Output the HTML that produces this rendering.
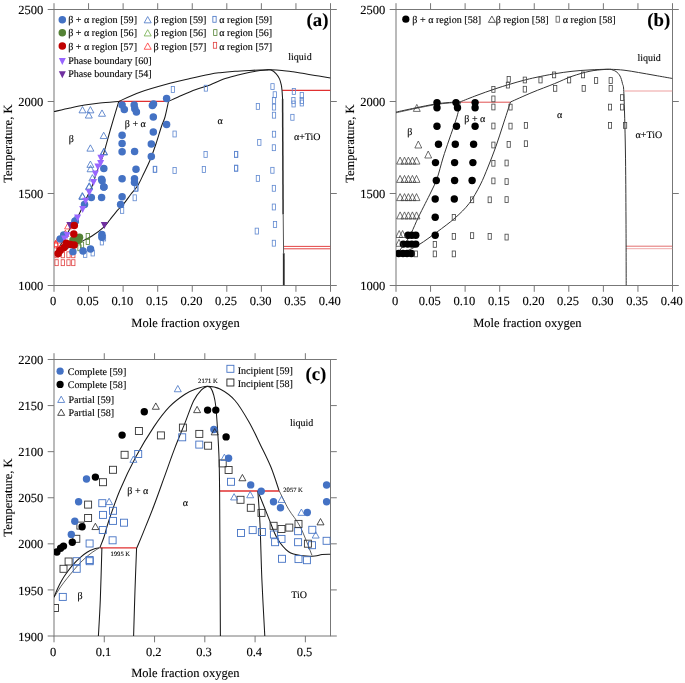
<!DOCTYPE html>
<html><head><meta charset="utf-8"><style>
html,body{margin:0;padding:0;background:#fff;}
svg{display:block;will-change:transform;}
text{font-family:"Liberation Serif",serif;fill:#000;stroke:#000;stroke-width:0.12px;text-rendering:geometricPrecision;}
.tl{font-size:12.5px;}
.at{font-size:12.5px;}
.pl{font-size:18.8px;font-weight:bold;}
.lg{font-size:10.1px;}
.an{font-size:10px;}
.sm{font-size:6.6px;}
</style></head><body>
<svg width="685" height="683" viewBox="0 0 685 683">
<defs><clipPath id="ca"><rect x="54" y="9.5" width="276.5" height="276"/></clipPath><clipPath id="cb"><rect x="396" y="9.5" width="276.5" height="276"/></clipPath><clipPath id="cc"><rect x="54" y="359.5" width="276.5" height="276.5"/></clipPath></defs>
<rect x="54" y="9.5" width="276.5" height="276" fill="none" stroke="#777" stroke-width="1"/>
<line x1="54" y1="285.5" x2="54" y2="291.8" stroke="#777"/>
<line x1="54" y1="9.5" x2="54" y2="3.2" stroke="#777"/>
<text x="53.2" y="305.1" class="tl" text-anchor="middle">0</text>
<line x1="88.56" y1="285.5" x2="88.56" y2="291.8" stroke="#777"/>
<line x1="88.56" y1="9.5" x2="88.56" y2="3.2" stroke="#777"/>
<text x="87.76" y="305.1" class="tl" text-anchor="middle">0.05</text>
<line x1="123.12" y1="285.5" x2="123.12" y2="291.8" stroke="#777"/>
<line x1="123.12" y1="9.5" x2="123.12" y2="3.2" stroke="#777"/>
<text x="122.33" y="305.1" class="tl" text-anchor="middle">0.10</text>
<line x1="157.69" y1="285.5" x2="157.69" y2="291.8" stroke="#777"/>
<line x1="157.69" y1="9.5" x2="157.69" y2="3.2" stroke="#777"/>
<text x="156.89" y="305.1" class="tl" text-anchor="middle">0.15</text>
<line x1="192.25" y1="285.5" x2="192.25" y2="291.8" stroke="#777"/>
<line x1="192.25" y1="9.5" x2="192.25" y2="3.2" stroke="#777"/>
<text x="191.45" y="305.1" class="tl" text-anchor="middle">0.20</text>
<line x1="226.81" y1="285.5" x2="226.81" y2="291.8" stroke="#777"/>
<line x1="226.81" y1="9.5" x2="226.81" y2="3.2" stroke="#777"/>
<text x="226.01" y="305.1" class="tl" text-anchor="middle">0.25</text>
<line x1="261.38" y1="285.5" x2="261.38" y2="291.8" stroke="#777"/>
<line x1="261.38" y1="9.5" x2="261.38" y2="3.2" stroke="#777"/>
<text x="260.57" y="305.1" class="tl" text-anchor="middle">0.30</text>
<line x1="295.94" y1="285.5" x2="295.94" y2="291.8" stroke="#777"/>
<line x1="295.94" y1="9.5" x2="295.94" y2="3.2" stroke="#777"/>
<text x="295.14" y="305.1" class="tl" text-anchor="middle">0.35</text>
<line x1="330.5" y1="285.5" x2="330.5" y2="291.8" stroke="#777"/>
<line x1="330.5" y1="9.5" x2="330.5" y2="3.2" stroke="#777"/>
<text x="329.7" y="305.1" class="tl" text-anchor="middle">0.40</text>
<line x1="47.7" y1="285.5" x2="54" y2="285.5" stroke="#777"/>
<line x1="330.5" y1="285.5" x2="336.8" y2="285.5" stroke="#777"/>
<text x="43.2" y="290.1" class="tl" text-anchor="end">1000</text>
<line x1="47.7" y1="193.5" x2="54" y2="193.5" stroke="#777"/>
<line x1="330.5" y1="193.5" x2="336.8" y2="193.5" stroke="#777"/>
<text x="43.2" y="198.1" class="tl" text-anchor="end">1500</text>
<line x1="47.7" y1="101.5" x2="54" y2="101.5" stroke="#777"/>
<line x1="330.5" y1="101.5" x2="336.8" y2="101.5" stroke="#777"/>
<text x="43.2" y="106.1" class="tl" text-anchor="end">2000</text>
<line x1="47.7" y1="9.5" x2="54" y2="9.5" stroke="#777"/>
<line x1="330.5" y1="9.5" x2="336.8" y2="9.5" stroke="#777"/>
<text x="43.2" y="14.1" class="tl" text-anchor="end">2500</text>
<g clip-path="url(#ca)">
<line x1="118.8" y1="101.4" x2="168.5" y2="101.4" stroke="#e03030" stroke-width="1.2"/>
<line x1="282.2" y1="90.4" x2="330.5" y2="90.4" stroke="#e03030" stroke-width="1.2"/>
<line x1="283.8" y1="246.4" x2="330.5" y2="246.4" stroke="#e03030" stroke-width="0.9"/>
<line x1="283.8" y1="248.8" x2="330.5" y2="248.8" stroke="#e03030" stroke-width="0.9"/>
<path d="M54 111.6C56.67 111 64.88 109.08 70 108C75.12 106.92 79.7 105.93 84.7 105.1C89.7 104.27 94.32 103.62 100 103C105.68 102.38 115.67 101.67 118.8 101.4" fill="none" stroke="#1a1a1a" stroke-width="1.05" stroke-linejoin="round"/>
<path d="M118.8 101.4C122.33 99.87 131.47 95.22 140 92.2C148.53 89.18 161.67 85.58 170 83.3C178.33 81.02 183.33 80.02 190 78.5C196.67 76.98 205 75.17 210 74.2C215 73.23 215.83 73.18 220 72.7C224.17 72.22 230 71.68 235 71.3C240 70.92 245.83 70.62 250 70.4C254.17 70.18 256.5 70.1 260 70C263.5 69.9 267.33 69.73 271 69.8C274.67 69.87 278.33 70.07 282 70.4C285.67 70.73 289.33 71.27 293 71.8C296.67 72.33 300.33 73 304 73.6C307.67 74.2 311.33 74.78 315 75.4C318.67 76.02 323.42 76.85 326 77.3C328.58 77.75 329.75 77.97 330.5 78.1" fill="none" stroke="#1a1a1a" stroke-width="1.05" stroke-linejoin="round"/>
<path d="M168.5 101.4C170.75 100.37 177.42 97.18 182 95.2C186.58 93.22 191.33 91.22 196 89.5C200.67 87.78 205.5 86.6 210 84.9C214.5 83.2 218.5 80.9 223 79.3C227.5 77.7 232.5 76.47 237 75.3C241.5 74.13 246.17 73.08 250 72.3C253.83 71.52 257.33 70.98 260 70.6C262.67 70.22 264.17 70.08 266 70C267.83 69.92 269.33 69.5 271 70.1C272.67 70.7 274.58 72.13 276 73.6C277.42 75.07 278.62 77 279.5 78.9C280.38 80.8 280.88 83.1 281.3 85C281.72 86.9 281.78 87.95 282 90.3C282.22 92.65 282.5 97.63 282.6 99.1" fill="none" stroke="#1a1a1a" stroke-width="1.05" stroke-linejoin="round"/>
<path d="M282.6 99.1L283.1 214.6" stroke="#2a2a2a" stroke-width="1.5" fill="none"/>
<path d="M283.2 214.6L283.6 253.2" stroke="#555" stroke-width="1.0" fill="none"/>
<path d="M283.75 253.2L283.8 285.5" stroke="#2a2a2a" stroke-width="1.8" fill="none"/>
<path d="M118.8 101.4C117.5 105.75 113.65 118.38 111 127.5C108.35 136.62 105.23 148.85 102.9 156.1C100.57 163.35 98.78 166.03 97 171C95.22 175.97 93.97 181.35 92.2 185.9C90.43 190.45 88.6 193.55 86.4 198.3C84.2 203.05 80.97 210.62 79 214.4C77.03 218.18 76.6 217.73 74.6 221C72.6 224.27 69.43 229.83 67 234C64.57 238.17 61.83 242.83 60 246C58.17 249.17 56.67 251.83 56 253" fill="none" stroke="#1a1a1a" stroke-width="1.05" stroke-linejoin="round"/>
<path d="M168.5 101.4C167.92 104 166.15 112.9 165 117C163.85 121.1 163.08 121.58 161.6 126C160.12 130.42 158.02 137.83 156.1 143.5C154.18 149.17 152.13 155.05 150.1 160C148.07 164.95 145.95 168.95 143.9 173.2C141.85 177.45 139.98 181.98 137.8 185.5C135.62 189.02 133.15 191.23 130.8 194.3C128.45 197.37 125.9 201.27 123.7 203.9C121.5 206.53 119.93 207.42 117.6 210.1C115.27 212.78 111.95 217.22 109.7 220C107.45 222.78 107.05 224.13 104.1 226.8C101.15 229.47 95.95 233.47 92 236C88.05 238.53 84.4 240 80.4 242C76.4 244 71.73 246.33 68 248C64.27 249.67 59.67 251.33 58 252" fill="none" stroke="#1a1a1a" stroke-width="1.05" stroke-linejoin="round"/>
<circle cx="62.3" cy="19.7" r="3.75" fill="#4472C4"/>
<circle cx="62.3" cy="32.8" r="3.75" fill="#548235"/>
<circle cx="62.3" cy="46.1" r="3.75" fill="#C00000"/>
<path d="M58.8 57.9L65.8 57.9L62.3 64.9Z" fill="#9966FF"/>
<path d="M58.8 71.3L65.8 71.3L62.3 78.3Z" fill="#7030A0"/>
<text x="68.2" y="23.3" class="lg" text-anchor="start">β + α region [59]</text>
<text x="68.2" y="36.4" class="lg" text-anchor="start">β + α region [56]</text>
<text x="68.2" y="49.6" class="lg" text-anchor="start">β + α region [57]</text>
<text x="68.2" y="64.2" class="lg" text-anchor="start">Phase boundary [60]</text>
<text x="68.2" y="77.4" class="lg" text-anchor="start">Phase boundary [54]</text>
<path d="M144.2 22.85L147.7 16.55L151.2 22.85Z" fill="none" stroke="#4472C4" stroke-width="0.8"/>
<path d="M144.2 35.95L147.7 29.65L151.2 35.95Z" fill="none" stroke="#70AD47" stroke-width="0.8"/>
<path d="M144.2 49.25L147.7 42.95L151.2 49.25Z" fill="none" stroke="#FF3333" stroke-width="0.8"/>
<text x="153.6" y="23.3" class="lg" text-anchor="start">β region [59]</text>
<text x="153.6" y="36.4" class="lg" text-anchor="start">β region [56]</text>
<text x="153.6" y="49.6" class="lg" text-anchor="start">β region [57]</text>
<rect x="212.85" y="16.35" width="3.3" height="5.9" fill="none" stroke="#4472C4" stroke-width="0.8"/>
<rect x="213.65" y="29.65" width="3.3" height="5.9" fill="none" stroke="#548235" stroke-width="0.8"/>
<rect x="213.35" y="42.35" width="3.3" height="5.9" fill="none" stroke="#E04040" stroke-width="0.8"/>
<text x="219.3" y="23.3" class="lg" text-anchor="start">α region [59]</text>
<text x="219.3" y="36.4" class="lg" text-anchor="start">α region [56]</text>
<text x="219.3" y="49.6" class="lg" text-anchor="start">α region [57]</text>
<text x="328.4" y="26.2" class="pl" text-anchor="end">(a)</text>
<text x="288.3" y="59.5" class="an" text-anchor="start">liquid</text>
<text x="293.9" y="139.6" class="an" text-anchor="start">α+TiO</text>
<text x="135.3" y="127" class="an" text-anchor="middle">β + α</text>
<text x="220" y="124" class="an" text-anchor="middle">α</text>
<text x="71.2" y="141.6" class="an" text-anchor="middle">β</text>
<rect x="171.25" y="86.55" width="3.3" height="5.9" fill="none" stroke="#5f88d0" stroke-width="0.8"/>
<rect x="204.25" y="85.25" width="3.3" height="5.9" fill="none" stroke="#5f88d0" stroke-width="0.8"/>
<rect x="172.95" y="131.05" width="3.3" height="5.9" fill="none" stroke="#5f88d0" stroke-width="0.8"/>
<rect x="203.95" y="151.45" width="3.3" height="5.9" fill="none" stroke="#5f88d0" stroke-width="0.8"/>
<rect x="234.45" y="151.45" width="3.3" height="5.9" fill="none" stroke="#5f88d0" stroke-width="0.8"/>
<rect x="153.15" y="166.55" width="3.3" height="5.9" fill="none" stroke="#5f88d0" stroke-width="0.8"/>
<rect x="172.95" y="167.55" width="3.3" height="5.9" fill="none" stroke="#5f88d0" stroke-width="0.8"/>
<rect x="202.25" y="166.55" width="3.3" height="5.9" fill="none" stroke="#5f88d0" stroke-width="0.8"/>
<rect x="234.45" y="165.35" width="3.3" height="5.9" fill="none" stroke="#5f88d0" stroke-width="0.8"/>
<rect x="133.05" y="194.85" width="3.3" height="5.9" fill="none" stroke="#5f88d0" stroke-width="0.8"/>
<rect x="120.45" y="207.45" width="3.3" height="5.9" fill="none" stroke="#5f88d0" stroke-width="0.8"/>
<rect x="134.35" y="185.35" width="3.3" height="5.9" fill="none" stroke="#5f88d0" stroke-width="0.8"/>
<rect x="270.85" y="83.65" width="3.3" height="5.9" fill="none" stroke="#5f88d0" stroke-width="0.8"/>
<rect x="273.15" y="91.75" width="3.3" height="5.9" fill="none" stroke="#5f88d0" stroke-width="0.8"/>
<rect x="272.35" y="97.55" width="3.3" height="5.9" fill="none" stroke="#5f88d0" stroke-width="0.8"/>
<rect x="272.35" y="104.15" width="3.3" height="5.9" fill="none" stroke="#5f88d0" stroke-width="0.8"/>
<rect x="272.35" y="112.25" width="3.3" height="5.9" fill="none" stroke="#5f88d0" stroke-width="0.8"/>
<rect x="256.25" y="103.45" width="3.3" height="5.9" fill="none" stroke="#5f88d0" stroke-width="0.8"/>
<rect x="272.35" y="131.25" width="3.3" height="5.9" fill="none" stroke="#5f88d0" stroke-width="0.8"/>
<rect x="257.65" y="139.45" width="3.3" height="5.9" fill="none" stroke="#5f88d0" stroke-width="0.8"/>
<rect x="272.25" y="144.75" width="3.3" height="5.9" fill="none" stroke="#5f88d0" stroke-width="0.8"/>
<rect x="292.25" y="88.45" width="3.3" height="5.9" fill="none" stroke="#5f88d0" stroke-width="0.8"/>
<rect x="291.75" y="97.55" width="3.3" height="5.9" fill="none" stroke="#5f88d0" stroke-width="0.8"/>
<rect x="291.95" y="101.05" width="3.3" height="5.9" fill="none" stroke="#5f88d0" stroke-width="0.8"/>
<rect x="300.15" y="92.45" width="3.3" height="5.9" fill="none" stroke="#5f88d0" stroke-width="0.8"/>
<rect x="300.15" y="97.55" width="3.3" height="5.9" fill="none" stroke="#5f88d0" stroke-width="0.8"/>
<rect x="300.15" y="100.05" width="3.3" height="5.9" fill="none" stroke="#5f88d0" stroke-width="0.8"/>
<rect x="290.75" y="114.35" width="3.3" height="5.9" fill="none" stroke="#5f88d0" stroke-width="0.8"/>
<rect x="234.45" y="151.35" width="3.3" height="5.9" fill="none" stroke="#5f88d0" stroke-width="0.8"/>
<rect x="234.45" y="165.15" width="3.3" height="5.9" fill="none" stroke="#5f88d0" stroke-width="0.8"/>
<rect x="270.75" y="167.35" width="3.3" height="5.9" fill="none" stroke="#5f88d0" stroke-width="0.8"/>
<rect x="256.25" y="175.45" width="3.3" height="5.9" fill="none" stroke="#5f88d0" stroke-width="0.8"/>
<rect x="272.25" y="185.35" width="3.3" height="5.9" fill="none" stroke="#5f88d0" stroke-width="0.8"/>
<rect x="272.25" y="204.05" width="3.3" height="5.9" fill="none" stroke="#5f88d0" stroke-width="0.8"/>
<rect x="273.35" y="221.55" width="3.3" height="5.9" fill="none" stroke="#5f88d0" stroke-width="0.8"/>
<rect x="255.15" y="228.15" width="3.3" height="5.9" fill="none" stroke="#5f88d0" stroke-width="0.8"/>
<rect x="272.25" y="240.25" width="3.3" height="5.9" fill="none" stroke="#5f88d0" stroke-width="0.8"/>
<rect x="100.25" y="239.05" width="3.3" height="5.9" fill="none" stroke="#5f88d0" stroke-width="0.8"/>
<rect x="83.55" y="251.45" width="3.3" height="5.9" fill="none" stroke="#5f88d0" stroke-width="0.8"/>
<rect x="91.05" y="250.05" width="3.3" height="5.9" fill="none" stroke="#5f88d0" stroke-width="0.8"/>
<rect x="102.35" y="235.05" width="3.3" height="5.9" fill="none" stroke="#5f88d0" stroke-width="0.8"/>
<rect x="153.55" y="166.25" width="3.3" height="5.9" fill="none" stroke="#5f88d0" stroke-width="0.8"/>
<rect x="134.85" y="185.15" width="3.3" height="5.9" fill="none" stroke="#5f88d0" stroke-width="0.8"/>
<rect x="86.15" y="233.45" width="3.3" height="5.9" fill="none" stroke="#548235" stroke-width="0.8"/>
<rect x="86.15" y="238.65" width="3.3" height="5.9" fill="none" stroke="#548235" stroke-width="0.8"/>
<rect x="77.85" y="244.85" width="3.3" height="5.9" fill="none" stroke="#548235" stroke-width="0.8"/>
<rect x="80.35" y="242.05" width="3.3" height="5.9" fill="none" stroke="#548235" stroke-width="0.8"/>
<rect x="54.95" y="259.75" width="3.3" height="5.9" fill="none" stroke="#E04040" stroke-width="0.8"/>
<rect x="61.15" y="259.75" width="3.3" height="5.9" fill="none" stroke="#E04040" stroke-width="0.8"/>
<rect x="66.85" y="259.75" width="3.3" height="5.9" fill="none" stroke="#E04040" stroke-width="0.8"/>
<rect x="71.65" y="259.75" width="3.3" height="5.9" fill="none" stroke="#E04040" stroke-width="0.8"/>
<rect x="54.95" y="251.85" width="3.3" height="5.9" fill="none" stroke="#E04040" stroke-width="0.8"/>
<rect x="61.15" y="251.85" width="3.3" height="5.9" fill="none" stroke="#E04040" stroke-width="0.8"/>
<rect x="66.85" y="251.85" width="3.3" height="5.9" fill="none" stroke="#E04040" stroke-width="0.8"/>
<rect x="71.65" y="251.85" width="3.3" height="5.9" fill="none" stroke="#E04040" stroke-width="0.8"/>
<rect x="54.35" y="242.05" width="3.3" height="5.9" fill="none" stroke="#E04040" stroke-width="0.8"/>
<rect x="56.35" y="247.05" width="3.3" height="5.9" fill="none" stroke="#E04040" stroke-width="0.8"/>
<path d="M79 112.85L82.5 106.55L86 112.85Z" fill="none" stroke="#4472C4" stroke-width="0.8"/>
<path d="M86.9 112.85L90.4 106.55L93.9 112.85Z" fill="none" stroke="#4472C4" stroke-width="0.8"/>
<path d="M85.3 118.05L88.8 111.75L92.3 118.05Z" fill="none" stroke="#4472C4" stroke-width="0.8"/>
<path d="M98.5 116.25L102 109.95L105.5 116.25Z" fill="none" stroke="#4472C4" stroke-width="0.8"/>
<path d="M100.2 138.55L103.7 132.25L107.2 138.55Z" fill="none" stroke="#4472C4" stroke-width="0.8"/>
<path d="M86.9 151.15L90.4 144.85L93.9 151.15Z" fill="none" stroke="#4472C4" stroke-width="0.8"/>
<path d="M100.5 154.95L104 148.65L107.5 154.95Z" fill="none" stroke="#4472C4" stroke-width="0.8"/>
<path d="M86.9 167.35L90.4 161.05L93.9 167.35Z" fill="none" stroke="#4472C4" stroke-width="0.8"/>
<path d="M87.1 171.75L90.6 165.45L94.1 171.75Z" fill="none" stroke="#4472C4" stroke-width="0.8"/>
<path d="M88.9 180.95L92.4 174.65L95.9 180.95Z" fill="none" stroke="#4472C4" stroke-width="0.8"/>
<path d="M85.6 189.75L89.1 183.45L92.6 189.75Z" fill="none" stroke="#4472C4" stroke-width="0.8"/>
<path d="M79.1 199.55L82.6 193.25L86.1 199.55Z" fill="none" stroke="#4472C4" stroke-width="0.8"/>
<path d="M85.8 189.05L89.3 182.75L92.8 189.05Z" fill="none" stroke="#4472C4" stroke-width="0.8"/>
<path d="M78.8 198.85L82.3 192.55L85.8 198.85Z" fill="none" stroke="#4472C4" stroke-width="0.8"/>
<path d="M71.7 222.25L75.2 215.95L78.7 222.25Z" fill="none" stroke="#4472C4" stroke-width="0.8"/>
<path d="M100.3 154.55L103.8 148.25L107.3 154.55Z" fill="none" stroke="#4472C4" stroke-width="0.8"/>
<path d="M64.6 228.95L68.1 222.65L71.6 228.95Z" fill="none" stroke="#FF3333" stroke-width="0.8"/>
<path d="M61.9 236.45L65.4 230.15L68.9 236.45Z" fill="none" stroke="#FF3333" stroke-width="0.8"/>
<path d="M52.3 246.55L55.8 240.25L59.3 246.55Z" fill="none" stroke="#FF3333" stroke-width="0.8"/>
<path d="M57.5 251.85L61 245.55L64.5 251.85Z" fill="none" stroke="#FF3333" stroke-width="0.8"/>
<path d="M54.5 243.15L58 236.85L61.5 243.15Z" fill="none" stroke="#FF3333" stroke-width="0.8"/>
<circle cx="122.1" cy="105" r="3.75" fill="#4472C4"/>
<circle cx="124.3" cy="109.4" r="3.75" fill="#4472C4"/>
<circle cx="134.2" cy="105" r="3.75" fill="#4472C4"/>
<circle cx="134.8" cy="108.8" r="3.75" fill="#4472C4"/>
<circle cx="136.4" cy="112" r="3.75" fill="#4472C4"/>
<circle cx="152.4" cy="105.5" r="3.75" fill="#4472C4"/>
<circle cx="153.5" cy="103.9" r="3.75" fill="#4472C4"/>
<circle cx="166.6" cy="98.5" r="3.75" fill="#4472C4"/>
<circle cx="153.3" cy="117.1" r="3.75" fill="#4472C4"/>
<circle cx="166.6" cy="124.4" r="3.75" fill="#4472C4"/>
<circle cx="153.3" cy="132" r="3.75" fill="#4472C4"/>
<circle cx="122.1" cy="135.3" r="3.75" fill="#4472C4"/>
<circle cx="122.1" cy="143.5" r="3.75" fill="#4472C4"/>
<circle cx="122.1" cy="151.8" r="3.75" fill="#4472C4"/>
<circle cx="134.6" cy="151.4" r="3.75" fill="#4472C4"/>
<circle cx="151.3" cy="143.9" r="3.75" fill="#4472C4"/>
<circle cx="151.3" cy="156.6" r="3.75" fill="#4472C4"/>
<circle cx="103.8" cy="168.6" r="3.75" fill="#4472C4"/>
<circle cx="136" cy="169.3" r="3.75" fill="#4472C4"/>
<circle cx="101.6" cy="179.2" r="3.75" fill="#4472C4"/>
<circle cx="122.1" cy="178.8" r="3.75" fill="#4472C4"/>
<circle cx="134.5" cy="178.8" r="3.75" fill="#4472C4"/>
<circle cx="134.5" cy="182.5" r="3.75" fill="#4472C4"/>
<circle cx="103.8" cy="187.1" r="3.75" fill="#4472C4"/>
<circle cx="91.3" cy="197.4" r="3.75" fill="#4472C4"/>
<circle cx="101.6" cy="197.4" r="3.75" fill="#4472C4"/>
<circle cx="122.1" cy="196.8" r="3.75" fill="#4472C4"/>
<circle cx="120.6" cy="204.4" r="3.75" fill="#4472C4"/>
<circle cx="84.5" cy="204.5" r="3.75" fill="#4472C4"/>
<circle cx="102.1" cy="180.7" r="3.75" fill="#4472C4"/>
<circle cx="103.9" cy="187" r="3.75" fill="#4472C4"/>
<circle cx="75.1" cy="221" r="3.75" fill="#4472C4"/>
<circle cx="63.7" cy="235" r="3.75" fill="#4472C4"/>
<circle cx="60.2" cy="239" r="3.75" fill="#4472C4"/>
<circle cx="83" cy="250.9" r="3.75" fill="#4472C4"/>
<circle cx="90.5" cy="249.1" r="3.75" fill="#4472C4"/>
<circle cx="101.9" cy="234.6" r="3.75" fill="#4472C4"/>
<circle cx="101.9" cy="237.2" r="3.75" fill="#4472C4"/>
<circle cx="72.9" cy="251.7" r="3.75" fill="#4472C4"/>
<circle cx="75" cy="221.7" r="3.75" fill="#4472C4"/>
<path d="M97.4 154.8L104.4 154.8L100.9 161.8Z" fill="#9966FF"/>
<path d="M97.1 159.9L104.1 159.9L100.6 166.9Z" fill="#9966FF"/>
<path d="M94.4 163.6L101.4 163.6L97.9 170.6Z" fill="#9966FF"/>
<path d="M91.9 170.5L98.9 170.5L95.4 177.5Z" fill="#9966FF"/>
<path d="M90 179L97 179L93.5 186Z" fill="#9966FF"/>
<path d="M85.8 189.3L92.8 189.3L89.3 196.3Z" fill="#9966FF"/>
<path d="M82.1 197.7L89.1 197.7L85.6 204.7Z" fill="#9966FF"/>
<path d="M79.2 206.1L86.2 206.1L82.7 213.1Z" fill="#9966FF"/>
<path d="M74.1 214.6L81.1 214.6L77.6 221.6Z" fill="#9966FF"/>
<path d="M63.7 232L70.7 232L67.2 239Z" fill="#9966FF"/>
<path d="M61 235.5L68 235.5L64.5 242.5Z" fill="#9966FF"/>
<path d="M100.8 222.1L107.8 222.1L104.3 229.1Z" fill="#7030A0"/>
<path d="M66.3 222.1L73.3 222.1L69.8 229.1Z" fill="#7030A0"/>
<circle cx="72.9" cy="240.3" r="3.75" fill="#548235"/>
<circle cx="76.4" cy="239.4" r="3.75" fill="#548235"/>
<circle cx="79.5" cy="237.2" r="3.75" fill="#548235"/>
<circle cx="78.6" cy="240.3" r="3.75" fill="#548235"/>
<circle cx="74.3" cy="225.4" r="3.75" fill="#C00000"/>
<circle cx="73.8" cy="233.9" r="3.75" fill="#C00000"/>
<circle cx="66.3" cy="243.3" r="3.75" fill="#C00000"/>
<circle cx="70.5" cy="244.5" r="3.75" fill="#C00000"/>
<circle cx="74.2" cy="244.9" r="3.75" fill="#C00000"/>
<circle cx="64.2" cy="247.4" r="3.75" fill="#C00000"/>
<circle cx="60.1" cy="250.4" r="3.75" fill="#C00000"/>
<circle cx="58.2" cy="253.5" r="3.75" fill="#C00000"/>
</g>
<rect x="396" y="9.5" width="276.5" height="276" fill="none" stroke="#777" stroke-width="1"/>
<line x1="396" y1="285.5" x2="396" y2="291.8" stroke="#777"/>
<line x1="396" y1="9.5" x2="396" y2="3.2" stroke="#777"/>
<text x="395.2" y="305.1" class="tl" text-anchor="middle">0</text>
<line x1="430.56" y1="285.5" x2="430.56" y2="291.8" stroke="#777"/>
<line x1="430.56" y1="9.5" x2="430.56" y2="3.2" stroke="#777"/>
<text x="429.76" y="305.1" class="tl" text-anchor="middle">0.05</text>
<line x1="465.12" y1="285.5" x2="465.12" y2="291.8" stroke="#777"/>
<line x1="465.12" y1="9.5" x2="465.12" y2="3.2" stroke="#777"/>
<text x="464.32" y="305.1" class="tl" text-anchor="middle">0.10</text>
<line x1="499.69" y1="285.5" x2="499.69" y2="291.8" stroke="#777"/>
<line x1="499.69" y1="9.5" x2="499.69" y2="3.2" stroke="#777"/>
<text x="498.89" y="305.1" class="tl" text-anchor="middle">0.15</text>
<line x1="534.25" y1="285.5" x2="534.25" y2="291.8" stroke="#777"/>
<line x1="534.25" y1="9.5" x2="534.25" y2="3.2" stroke="#777"/>
<text x="533.45" y="305.1" class="tl" text-anchor="middle">0.20</text>
<line x1="568.81" y1="285.5" x2="568.81" y2="291.8" stroke="#777"/>
<line x1="568.81" y1="9.5" x2="568.81" y2="3.2" stroke="#777"/>
<text x="568.01" y="305.1" class="tl" text-anchor="middle">0.25</text>
<line x1="603.38" y1="285.5" x2="603.38" y2="291.8" stroke="#777"/>
<line x1="603.38" y1="9.5" x2="603.38" y2="3.2" stroke="#777"/>
<text x="602.58" y="305.1" class="tl" text-anchor="middle">0.30</text>
<line x1="637.94" y1="285.5" x2="637.94" y2="291.8" stroke="#777"/>
<line x1="637.94" y1="9.5" x2="637.94" y2="3.2" stroke="#777"/>
<text x="637.14" y="305.1" class="tl" text-anchor="middle">0.35</text>
<line x1="672.5" y1="285.5" x2="672.5" y2="291.8" stroke="#777"/>
<line x1="672.5" y1="9.5" x2="672.5" y2="3.2" stroke="#777"/>
<text x="671.7" y="305.1" class="tl" text-anchor="middle">0.40</text>
<line x1="389.7" y1="285.5" x2="396" y2="285.5" stroke="#777"/>
<line x1="672.5" y1="285.5" x2="678.8" y2="285.5" stroke="#777"/>
<text x="385.2" y="290.1" class="tl" text-anchor="end">1000</text>
<line x1="389.7" y1="193.5" x2="396" y2="193.5" stroke="#777"/>
<line x1="672.5" y1="193.5" x2="678.8" y2="193.5" stroke="#777"/>
<text x="385.2" y="198.1" class="tl" text-anchor="end">1500</text>
<line x1="389.7" y1="101.5" x2="396" y2="101.5" stroke="#777"/>
<line x1="672.5" y1="101.5" x2="678.8" y2="101.5" stroke="#777"/>
<text x="385.2" y="106.1" class="tl" text-anchor="end">2000</text>
<line x1="389.7" y1="9.5" x2="396" y2="9.5" stroke="#777"/>
<line x1="672.5" y1="9.5" x2="678.8" y2="9.5" stroke="#777"/>
<text x="385.2" y="14.1" class="tl" text-anchor="end">2500</text>
<g clip-path="url(#cb)">
<line x1="460.4" y1="102.2" x2="510.5" y2="102.2" stroke="#e05050" stroke-width="1.0"/>
<line x1="624.5" y1="91" x2="672.5" y2="91" stroke="#eea0a0" stroke-width="1.1"/>
<line x1="625.9" y1="246.2" x2="672.5" y2="246.2" stroke="#e06060" stroke-width="0.9"/>
<line x1="625.9" y1="248.7" x2="672.5" y2="248.7" stroke="#eea0a0" stroke-width="0.9"/>
<path d="M396 112.1C399.17 111.42 408.42 109.35 415 108C421.58 106.65 430 104.9 435.5 104C441 103.1 443.85 102.97 448 102.6C452.15 102.23 458.33 101.93 460.4 101.8" fill="none" stroke="#333" stroke-width="1.0" stroke-linejoin="round"/>
<path d="M396 112.8C399.17 112.1 408.42 109.97 415 108.6C421.58 107.23 430 105.52 435.5 104.6C441 103.68 443.85 103.5 448 103.1C452.15 102.7 458.33 102.35 460.4 102.2" fill="none" stroke="#333" stroke-width="0.8" stroke-linejoin="round"/>
<path d="M460.4 101.8C463.17 100.72 471.38 97.4 477 95.3C482.62 93.2 488.6 91.05 494.1 89.2C499.6 87.35 505.07 85.68 510 84.2C514.93 82.72 519.37 81.43 523.7 80.3C528.03 79.17 530.88 78.48 536 77.4C541.12 76.32 548.4 74.82 554.4 73.8C560.4 72.78 566.07 71.95 572 71.3C577.93 70.65 583.78 70.23 590 69.9C596.22 69.57 603.63 69.25 609.3 69.3C614.97 69.35 619.12 69.67 624 70.2C628.88 70.73 633.43 71.63 638.6 72.5C643.77 73.37 649.35 74.4 655 75.4C660.65 76.4 669.58 77.98 672.5 78.5" fill="none" stroke="#333" stroke-width="1.0" stroke-linejoin="round"/>
<path d="M510.5 102C514.08 100.42 524.68 95.55 532 92.5C539.32 89.45 547.73 86.4 554.4 83.7C561.07 81 566.07 78.38 572 76.3C577.93 74.22 584.67 72.33 590 71.2C595.33 70.07 600.55 69.82 604 69.5C607.45 69.18 609.58 69.33 610.7 69.3" fill="none" stroke="#333" stroke-width="1.0" stroke-linejoin="round"/>
<path d="M610.7 69.3C611.58 69.67 614.45 70.38 616 71.5C617.55 72.62 618.92 73.97 620 76C621.08 78.03 621.85 80.72 622.5 83.7C623.15 86.68 623.42 82.85 623.9 93.9C624.38 104.95 625.05 128.98 625.4 150C625.75 171.02 625.87 197.42 626 220C626.13 242.58 626.17 274.58 626.2 285.5" fill="none" stroke="#333" stroke-width="1.0" stroke-linejoin="round"/>
<path d="M460.4 101.8C459.8 104.37 458.7 110.83 456.8 117.2C454.9 123.57 451.3 133.2 449 140C446.7 146.8 445 151.55 443 158C441 164.45 439 173.03 437 178.7C435 184.37 432.95 187.88 431 192C429.05 196.12 427.47 199.07 425.3 203.4C423.13 207.73 420.32 213.12 418 218C415.68 222.88 413.4 228.7 411.4 232.7C409.4 236.7 407.9 239.12 406 242C404.1 244.88 401 248.67 400 250" fill="none" stroke="#333" stroke-width="1.0" stroke-linejoin="round"/>
<path d="M510.5 102C509.25 105.83 505.43 117.58 503 125C500.57 132.42 498.4 139.5 495.9 146.5C493.4 153.5 490.62 160.58 488 167C485.38 173.42 483.33 178.93 480.2 185C477.07 191.07 473.4 197.9 469.2 203.4C465 208.9 460.37 213.23 455 218C449.63 222.77 442.93 227.6 437 232C431.07 236.4 424.73 241.07 419.4 244.4C414.07 247.73 408.73 250.07 405 252C401.27 253.93 398.33 255.33 397 256" fill="none" stroke="#333" stroke-width="1.0" stroke-linejoin="round"/>
<circle cx="405.8" cy="19.2" r="3.6" fill="#000"/>
<text x="412.3" y="22.9" class="lg" text-anchor="start">β + α region [58]</text>
<path d="M488.4 22.35L491.9 16.05L495.4 22.35Z" fill="none" stroke="#333" stroke-width="0.8"/>
<text x="495.8" y="22.9" class="lg" text-anchor="start">β region [58]</text>
<rect x="556.05" y="16.25" width="3.3" height="5.9" fill="none" stroke="#555" stroke-width="0.8"/>
<text x="562.8" y="22.9" class="lg" text-anchor="start">α region [58]</text>
<text x="670.3" y="25.6" class="pl" text-anchor="end">(b)</text>
<text x="637.4" y="60.5" class="an" text-anchor="start">liquid</text>
<text x="635.6" y="137.8" class="an" text-anchor="start">α+TiO</text>
<text x="474.8" y="122.2" class="an" text-anchor="middle">β + α</text>
<text x="559.5" y="117.5" class="an" text-anchor="middle">α</text>
<text x="409.9" y="135.1" class="an" text-anchor="middle">β</text>
<circle cx="437" cy="102.6" r="3.7" fill="#000"/>
<circle cx="456" cy="102.6" r="3.7" fill="#000"/>
<circle cx="475.1" cy="102.6" r="3.7" fill="#000"/>
<circle cx="437" cy="107.7" r="3.7" fill="#000"/>
<circle cx="457.5" cy="107.7" r="3.7" fill="#000"/>
<circle cx="475.1" cy="107.7" r="3.7" fill="#000"/>
<circle cx="437" cy="126.3" r="3.7" fill="#000"/>
<circle cx="456.5" cy="126.3" r="3.7" fill="#000"/>
<circle cx="475.1" cy="126.3" r="3.7" fill="#000"/>
<circle cx="438.5" cy="144.3" r="3.7" fill="#000"/>
<circle cx="455.3" cy="144.3" r="3.7" fill="#000"/>
<circle cx="473.6" cy="144.3" r="3.7" fill="#000"/>
<circle cx="435.5" cy="162.6" r="3.7" fill="#000"/>
<circle cx="454.6" cy="162.6" r="3.7" fill="#000"/>
<circle cx="472.9" cy="162.6" r="3.7" fill="#000"/>
<circle cx="436.3" cy="180.5" r="3.7" fill="#000"/>
<circle cx="454.6" cy="180.5" r="3.7" fill="#000"/>
<circle cx="472.1" cy="180.5" r="3.7" fill="#000"/>
<circle cx="435.2" cy="199" r="3.7" fill="#000"/>
<circle cx="454.3" cy="199" r="3.7" fill="#000"/>
<circle cx="435.2" cy="217.3" r="3.7" fill="#000"/>
<circle cx="408" cy="235.3" r="3.7" fill="#000"/>
<circle cx="411.8" cy="235.3" r="3.7" fill="#000"/>
<circle cx="415.8" cy="235.3" r="3.7" fill="#000"/>
<circle cx="435.2" cy="235.3" r="3.7" fill="#000"/>
<circle cx="403.3" cy="244.1" r="3.7" fill="#000"/>
<circle cx="407.7" cy="244.1" r="3.7" fill="#000"/>
<circle cx="411.8" cy="244.1" r="3.7" fill="#000"/>
<circle cx="415.8" cy="244.1" r="3.7" fill="#000"/>
<circle cx="398.6" cy="253.5" r="3.7" fill="#000"/>
<circle cx="403" cy="253.5" r="3.7" fill="#000"/>
<circle cx="407" cy="253.5" r="3.7" fill="#000"/>
<circle cx="411.4" cy="253.5" r="3.7" fill="#000"/>
<path d="M413.35 111.4L416.8 104.4L420.25 111.4Z" fill="none" stroke="#333" stroke-width="0.7"/>
<path d="M414.85 148L418.3 141L421.75 148Z" fill="none" stroke="#333" stroke-width="0.7"/>
<path d="M424.75 158L428.2 151L431.65 158Z" fill="none" stroke="#333" stroke-width="0.7"/>
<path d="M396.65 164.1L400.1 157.1L403.55 164.1Z" fill="none" stroke="#333" stroke-width="0.7"/>
<path d="M401.05 164.1L404.5 157.1L407.95 164.1Z" fill="none" stroke="#333" stroke-width="0.7"/>
<path d="M404.95 164.1L408.4 157.1L411.85 164.1Z" fill="none" stroke="#333" stroke-width="0.7"/>
<path d="M408.95 164.1L412.4 157.1L415.85 164.1Z" fill="none" stroke="#333" stroke-width="0.7"/>
<path d="M413.05 164.1L416.5 157.1L419.95 164.1Z" fill="none" stroke="#333" stroke-width="0.7"/>
<path d="M396.65 182.4L400.1 175.4L403.55 182.4Z" fill="none" stroke="#333" stroke-width="0.7"/>
<path d="M401.05 182.4L404.5 175.4L407.95 182.4Z" fill="none" stroke="#333" stroke-width="0.7"/>
<path d="M404.95 182.4L408.4 175.4L411.85 182.4Z" fill="none" stroke="#333" stroke-width="0.7"/>
<path d="M408.95 182.4L412.4 175.4L415.85 182.4Z" fill="none" stroke="#333" stroke-width="0.7"/>
<path d="M413.05 182.4L416.5 175.4L419.95 182.4Z" fill="none" stroke="#333" stroke-width="0.7"/>
<path d="M396.65 200.6L400.1 193.6L403.55 200.6Z" fill="none" stroke="#333" stroke-width="0.7"/>
<path d="M401.05 200.6L404.5 193.6L407.95 200.6Z" fill="none" stroke="#333" stroke-width="0.7"/>
<path d="M404.95 200.6L408.4 193.6L411.85 200.6Z" fill="none" stroke="#333" stroke-width="0.7"/>
<path d="M408.95 200.6L412.4 193.6L415.85 200.6Z" fill="none" stroke="#333" stroke-width="0.7"/>
<path d="M413.05 200.6L416.5 193.6L419.95 200.6Z" fill="none" stroke="#333" stroke-width="0.7"/>
<path d="M396.65 218.9L400.1 211.9L403.55 218.9Z" fill="none" stroke="#333" stroke-width="0.7"/>
<path d="M401.05 218.9L404.5 211.9L407.95 218.9Z" fill="none" stroke="#333" stroke-width="0.7"/>
<path d="M404.95 218.9L408.4 211.9L411.85 218.9Z" fill="none" stroke="#333" stroke-width="0.7"/>
<path d="M408.95 218.9L412.4 211.9L415.85 218.9Z" fill="none" stroke="#333" stroke-width="0.7"/>
<path d="M413.05 218.9L416.5 211.9L419.95 218.9Z" fill="none" stroke="#333" stroke-width="0.7"/>
<path d="M395.75 237.5L399.2 230.5L402.65 237.5Z" fill="none" stroke="#333" stroke-width="0.7"/>
<path d="M399.15 237.5L402.6 230.5L406.05 237.5Z" fill="none" stroke="#333" stroke-width="0.7"/>
<path d="M395.55 246.3L399 239.3L402.45 246.3Z" fill="none" stroke="#333" stroke-width="0.7"/>
<rect x="491.8" y="86.5" width="3.2" height="5.8" fill="none" stroke="#444" stroke-width="0.8"/>
<rect x="491.8" y="96" width="3.2" height="5.8" fill="none" stroke="#444" stroke-width="0.8"/>
<rect x="491.8" y="104.1" width="3.2" height="5.8" fill="none" stroke="#444" stroke-width="0.8"/>
<rect x="491.8" y="123.1" width="3.2" height="5.8" fill="none" stroke="#444" stroke-width="0.8"/>
<rect x="491.8" y="142.1" width="3.2" height="5.8" fill="none" stroke="#444" stroke-width="0.8"/>
<rect x="491.8" y="160.4" width="3.2" height="5.8" fill="none" stroke="#444" stroke-width="0.8"/>
<rect x="491.8" y="178" width="3.2" height="5.8" fill="none" stroke="#444" stroke-width="0.8"/>
<rect x="507.1" y="76.4" width="3.2" height="5.8" fill="none" stroke="#444" stroke-width="0.8"/>
<rect x="506.3" y="82.2" width="3.2" height="5.8" fill="none" stroke="#444" stroke-width="0.8"/>
<rect x="523.2" y="77.1" width="3.2" height="5.8" fill="none" stroke="#444" stroke-width="0.8"/>
<rect x="523.2" y="86.3" width="3.2" height="5.8" fill="none" stroke="#444" stroke-width="0.8"/>
<rect x="538.9" y="77.1" width="3.2" height="5.8" fill="none" stroke="#444" stroke-width="0.8"/>
<rect x="552.5" y="72" width="3.2" height="5.8" fill="none" stroke="#444" stroke-width="0.8"/>
<rect x="553.6" y="85.5" width="3.2" height="5.8" fill="none" stroke="#444" stroke-width="0.8"/>
<rect x="567.5" y="77.1" width="3.2" height="5.8" fill="none" stroke="#444" stroke-width="0.8"/>
<rect x="581.4" y="72" width="3.2" height="5.8" fill="none" stroke="#444" stroke-width="0.8"/>
<rect x="582.1" y="85.5" width="3.2" height="5.8" fill="none" stroke="#444" stroke-width="0.8"/>
<rect x="508.9" y="104.2" width="3.2" height="5.8" fill="none" stroke="#444" stroke-width="0.8"/>
<rect x="508.9" y="123.2" width="3.2" height="5.8" fill="none" stroke="#444" stroke-width="0.8"/>
<rect x="524.3" y="122.5" width="3.2" height="5.8" fill="none" stroke="#444" stroke-width="0.8"/>
<rect x="507.1" y="141.5" width="3.2" height="5.8" fill="none" stroke="#444" stroke-width="0.8"/>
<rect x="524.3" y="140.8" width="3.2" height="5.8" fill="none" stroke="#444" stroke-width="0.8"/>
<rect x="594.5" y="77.6" width="3.2" height="5.8" fill="none" stroke="#444" stroke-width="0.8"/>
<rect x="609.1" y="77.6" width="3.2" height="5.8" fill="none" stroke="#444" stroke-width="0.8"/>
<rect x="609.1" y="85.5" width="3.2" height="5.8" fill="none" stroke="#444" stroke-width="0.8"/>
<rect x="620.6" y="94.7" width="3.2" height="5.8" fill="none" stroke="#444" stroke-width="0.8"/>
<rect x="608.4" y="104.2" width="3.2" height="5.8" fill="none" stroke="#444" stroke-width="0.8"/>
<rect x="620.6" y="104.2" width="3.2" height="5.8" fill="none" stroke="#444" stroke-width="0.8"/>
<rect x="608.4" y="122.5" width="3.2" height="5.8" fill="none" stroke="#444" stroke-width="0.8"/>
<rect x="623.5" y="122.5" width="3.2" height="5.8" fill="none" stroke="#444" stroke-width="0.8"/>
<rect x="505" y="160.1" width="3.2" height="5.8" fill="none" stroke="#444" stroke-width="0.8"/>
<rect x="505" y="178.7" width="3.2" height="5.8" fill="none" stroke="#444" stroke-width="0.8"/>
<rect x="505" y="196.7" width="3.2" height="5.8" fill="none" stroke="#444" stroke-width="0.8"/>
<rect x="505" y="234.2" width="3.2" height="5.8" fill="none" stroke="#444" stroke-width="0.8"/>
<rect x="470.5" y="196.9" width="3.2" height="5.8" fill="none" stroke="#444" stroke-width="0.8"/>
<rect x="488.1" y="196.9" width="3.2" height="5.8" fill="none" stroke="#444" stroke-width="0.8"/>
<rect x="452.2" y="214.4" width="3.2" height="5.8" fill="none" stroke="#444" stroke-width="0.8"/>
<rect x="452.2" y="233.5" width="3.2" height="5.8" fill="none" stroke="#444" stroke-width="0.8"/>
<rect x="470.5" y="232.7" width="3.2" height="5.8" fill="none" stroke="#444" stroke-width="0.8"/>
<rect x="488.1" y="233.5" width="3.2" height="5.8" fill="none" stroke="#444" stroke-width="0.8"/>
<rect x="433.2" y="241.5" width="3.2" height="5.8" fill="none" stroke="#444" stroke-width="0.8"/>
<rect x="433.2" y="251" width="3.2" height="5.8" fill="none" stroke="#444" stroke-width="0.8"/>
<rect x="452.2" y="251" width="3.2" height="5.8" fill="none" stroke="#444" stroke-width="0.8"/>
<rect x="414.2" y="251" width="3.2" height="5.8" fill="none" stroke="#444" stroke-width="0.8"/>
</g>
<rect x="54" y="359.5" width="276.5" height="276.5" fill="none" stroke="#777" stroke-width="1"/>
<line x1="54" y1="636" x2="54" y2="642.3" stroke="#777"/>
<line x1="54" y1="359.5" x2="54" y2="353.2" stroke="#777"/>
<text x="53.2" y="655.6" class="tl" text-anchor="middle">0</text>
<line x1="104.27" y1="636" x2="104.27" y2="642.3" stroke="#777"/>
<line x1="104.27" y1="359.5" x2="104.27" y2="353.2" stroke="#777"/>
<text x="103.47" y="655.6" class="tl" text-anchor="middle">0.1</text>
<line x1="154.55" y1="636" x2="154.55" y2="642.3" stroke="#777"/>
<line x1="154.55" y1="359.5" x2="154.55" y2="353.2" stroke="#777"/>
<text x="153.75" y="655.6" class="tl" text-anchor="middle">0.2</text>
<line x1="204.82" y1="636" x2="204.82" y2="642.3" stroke="#777"/>
<line x1="204.82" y1="359.5" x2="204.82" y2="353.2" stroke="#777"/>
<text x="204.02" y="655.6" class="tl" text-anchor="middle">0.3</text>
<line x1="255.09" y1="636" x2="255.09" y2="642.3" stroke="#777"/>
<line x1="255.09" y1="359.5" x2="255.09" y2="353.2" stroke="#777"/>
<text x="254.29" y="655.6" class="tl" text-anchor="middle">0.4</text>
<line x1="305.36" y1="636" x2="305.36" y2="642.3" stroke="#777"/>
<line x1="305.36" y1="359.5" x2="305.36" y2="353.2" stroke="#777"/>
<text x="304.56" y="655.6" class="tl" text-anchor="middle">0.5</text>
<line x1="47.7" y1="636" x2="54" y2="636" stroke="#777"/>
<line x1="330.5" y1="636" x2="336.8" y2="636" stroke="#777"/>
<text x="43.2" y="640.6" class="tl" text-anchor="end">1900</text>
<line x1="47.7" y1="589.92" x2="54" y2="589.92" stroke="#777"/>
<line x1="330.5" y1="589.92" x2="336.8" y2="589.92" stroke="#777"/>
<text x="43.2" y="594.52" class="tl" text-anchor="end">1950</text>
<line x1="47.7" y1="543.83" x2="54" y2="543.83" stroke="#777"/>
<line x1="330.5" y1="543.83" x2="336.8" y2="543.83" stroke="#777"/>
<text x="43.2" y="548.43" class="tl" text-anchor="end">2000</text>
<line x1="47.7" y1="497.75" x2="54" y2="497.75" stroke="#777"/>
<line x1="330.5" y1="497.75" x2="336.8" y2="497.75" stroke="#777"/>
<text x="43.2" y="502.35" class="tl" text-anchor="end">2050</text>
<line x1="47.7" y1="451.67" x2="54" y2="451.67" stroke="#777"/>
<line x1="330.5" y1="451.67" x2="336.8" y2="451.67" stroke="#777"/>
<text x="43.2" y="456.27" class="tl" text-anchor="end">2100</text>
<line x1="47.7" y1="405.58" x2="54" y2="405.58" stroke="#777"/>
<line x1="330.5" y1="405.58" x2="336.8" y2="405.58" stroke="#777"/>
<text x="43.2" y="410.18" class="tl" text-anchor="end">2150</text>
<line x1="47.7" y1="359.5" x2="54" y2="359.5" stroke="#777"/>
<line x1="330.5" y1="359.5" x2="336.8" y2="359.5" stroke="#777"/>
<text x="43.2" y="364.1" class="tl" text-anchor="end">2200</text>
<g clip-path="url(#cc)">
<line x1="99.8" y1="547.8" x2="136.9" y2="547.8" stroke="#e03030" stroke-width="1.3"/>
<line x1="219.6" y1="491" x2="279.2" y2="491" stroke="#e03030" stroke-width="1.3"/>
<path d="M54 597.3C54.55 595.95 56.02 592.02 57.3 589.2C58.58 586.38 60.1 583.18 61.7 580.4C63.3 577.62 65 575.13 66.9 572.5C68.8 569.87 70.9 567.08 73.1 564.6C75.3 562.12 77.77 559.65 80.1 557.6C82.43 555.55 84.9 553.7 87.1 552.3C89.3 550.9 91.25 549.95 93.3 549.2C95.35 548.45 98.38 548.03 99.4 547.8" fill="none" stroke="#1a1a1a" stroke-width="1.05" stroke-linejoin="round"/>
<path d="M54 597.3C55.13 595.52 58.65 589.72 60.8 586.6C62.95 583.48 64.7 581.38 66.9 578.6C69.1 575.82 71.65 572.67 74 569.9C76.35 567.13 78.52 564.5 81 562C83.48 559.5 86.57 556.82 88.9 554.9C91.23 552.98 93.25 551.67 95 550.5C96.75 549.33 98.67 548.33 99.4 547.9" fill="none" stroke="#1a1a1a" stroke-width="0.7" stroke-linejoin="round"/>
<path d="M99.8 547.8C100.5 546 102.48 541.55 104 537C105.52 532.45 106.25 528.28 108.9 520.5C111.55 512.72 115.38 500.95 119.9 490.3C124.42 479.65 130.32 467.22 136 456.6C141.68 445.98 148.45 434.88 154 426.6C159.55 418.32 164.13 412.28 169.3 406.9C174.47 401.52 180.55 397.28 185 394.3C189.45 391.32 192.28 390.33 196 389C199.72 387.67 203.3 386.3 207.3 386.3C211.3 386.3 215.38 386.63 220 389C224.62 391.37 230.17 395 235 400.5C239.83 406 244.72 414.52 249 422C253.28 429.48 257.03 437.85 260.7 445.4C264.37 452.95 267.95 459.8 271 467.3C274.05 474.8 277.67 486.55 279 490.4" fill="none" stroke="#1a1a1a" stroke-width="1.05" stroke-linejoin="round"/>
<path d="M279 490.4C280.6 493.55 285.05 503.22 288.6 509.3C292.15 515.38 296.4 519.22 300.3 526.9C304.2 534.58 310.05 550.65 312 555.4" fill="none" stroke="#1a1a1a" stroke-width="0.7" stroke-linejoin="round"/>
<path d="M207.3 386.3C206.38 386.85 204.05 387.23 201.8 389.6C199.55 391.97 196.55 395.08 193.8 400.5C191.05 405.92 188.48 414.12 185.3 422.1C182.12 430.08 178.22 439.18 174.7 448.4C171.18 457.62 167.7 467.75 164.2 477.4C160.7 487.05 157.2 497.1 153.7 506.3C150.2 515.5 146 525.68 143.2 532.6C140.4 539.52 137.95 545.27 136.9 547.8" fill="none" stroke="#1a1a1a" stroke-width="1.05" stroke-linejoin="round"/>
<path d="M207.3 386.3C207.9 386.6 209.82 386.58 210.9 388.1C211.98 389.62 213 392.47 213.8 395.4C214.6 398.33 215.07 399.88 215.7 405.7C216.33 411.52 217.03 421.25 217.6 430.3C218.17 439.35 218.77 449.88 219.1 460C219.43 470.12 219.47 477.67 219.6 491C219.73 504.33 219.77 515.83 219.9 540C220.03 564.17 220.32 620 220.4 636" fill="none" stroke="#1a1a1a" stroke-width="1.05" stroke-linejoin="round"/>
<path d="M101.9 547.8C101.63 556.5 100.88 585.3 100.3 600C99.72 614.7 98.72 630 98.4 636" fill="none" stroke="#1a1a1a" stroke-width="1.05" stroke-linejoin="round"/>
<path d="M136.6 547.8C136.33 554.83 135.5 575.3 135 590C134.5 604.7 133.83 628.33 133.6 636" fill="none" stroke="#1a1a1a" stroke-width="1.05" stroke-linejoin="round"/>
<path d="M257.8 491C258.17 496.48 259.32 509.07 260 523.9C260.68 538.73 261.1 561.32 261.9 580C262.7 598.68 264.32 626.67 264.8 636" fill="none" stroke="#1a1a1a" stroke-width="1.05" stroke-linejoin="round"/>
<path d="M257.8 491C259.52 495.27 264.92 508.8 268.1 516.6C271.28 524.4 273.48 531.95 276.9 537.8C280.32 543.65 284.22 548.7 288.6 551.7C292.98 554.7 298.82 555.07 303.2 555.8C307.58 556.53 311.77 556.32 314.9 556.1C318.03 555.88 319.4 554.82 322 554.5C324.6 554.18 329.08 554.25 330.5 554.2" fill="none" stroke="#1a1a1a" stroke-width="1.05" stroke-linejoin="round"/>
<text x="207.9" y="383" class="sm" text-anchor="middle">2171 K</text>
<text x="120.3" y="556.4" class="sm" text-anchor="middle">1995 K</text>
<text x="293.1" y="491.5" class="sm" text-anchor="middle">2057 K</text>
<text x="137.8" y="494.1" class="an" text-anchor="middle">β + α</text>
<text x="185.4" y="505.5" class="an" text-anchor="middle">α</text>
<text x="80.1" y="598.5" class="an" text-anchor="middle">β</text>
<text x="290" y="425.6" class="an" text-anchor="start">liquid</text>
<text x="291.2" y="597.5" class="an" text-anchor="start">TiO</text>
<text x="326.3" y="380.1" class="pl" text-anchor="end">(c)</text>
<circle cx="60.1" cy="371.2" r="3.6" fill="#4472C4"/>
<circle cx="60.1" cy="384.4" r="3.6" fill="#000"/>
<path d="M57.7 402.45L61.2 396.15L64.7 402.45Z" fill="none" stroke="#4472C4" stroke-width="0.8"/>
<path d="M57.7 415.35L61.2 409.05L64.7 415.35Z" fill="none" stroke="#222" stroke-width="0.8"/>
<text x="67.7" y="374.8" class="lg" text-anchor="start">Complete [59]</text>
<text x="67.7" y="388" class="lg" text-anchor="start">Complete [58]</text>
<text x="68.5" y="403" class="lg" text-anchor="start">Partial [59]</text>
<text x="68.5" y="416" class="lg" text-anchor="start">Partial [58]</text>
<rect x="226.9" y="365.3" width="7.0" height="7.0" fill="none" stroke="#4472C4" stroke-width="0.9"/>
<rect x="226.9" y="379" width="7.0" height="7.0" fill="none" stroke="#222" stroke-width="0.9"/>
<text x="237.7" y="373.7" class="lg" text-anchor="start">Incipient [59]</text>
<text x="237.7" y="386.7" class="lg" text-anchor="start">Incipient [58]</text>
<rect x="134.7" y="450.5" width="7.0" height="7.0" fill="none" stroke="#4472C4" stroke-width="0.9"/>
<rect x="98.8" y="499.7" width="7.0" height="7.0" fill="none" stroke="#4472C4" stroke-width="0.9"/>
<rect x="109.5" y="507.3" width="7.0" height="7.0" fill="none" stroke="#4472C4" stroke-width="0.9"/>
<rect x="99.5" y="511.4" width="7.0" height="7.0" fill="none" stroke="#4472C4" stroke-width="0.9"/>
<rect x="109.5" y="517.4" width="7.0" height="7.0" fill="none" stroke="#4472C4" stroke-width="0.9"/>
<rect x="120.5" y="519.2" width="7.0" height="7.0" fill="none" stroke="#4472C4" stroke-width="0.9"/>
<rect x="99.3" y="526.5" width="7.0" height="7.0" fill="none" stroke="#4472C4" stroke-width="0.9"/>
<rect x="109.1" y="536.8" width="7.0" height="7.0" fill="none" stroke="#4472C4" stroke-width="0.9"/>
<rect x="86.1" y="540" width="7.0" height="7.0" fill="none" stroke="#4472C4" stroke-width="0.9"/>
<rect x="73.2" y="557.7" width="7.0" height="7.0" fill="none" stroke="#4472C4" stroke-width="0.9"/>
<rect x="86.1" y="556.5" width="7.0" height="7.0" fill="none" stroke="#4472C4" stroke-width="0.9"/>
<rect x="73.2" y="565.3" width="7.0" height="7.0" fill="none" stroke="#4472C4" stroke-width="0.9"/>
<rect x="59.3" y="593.4" width="7.0" height="7.0" fill="none" stroke="#4472C4" stroke-width="0.9"/>
<rect x="86.2" y="557.7" width="7.0" height="7.0" fill="none" stroke="#4472C4" stroke-width="0.9"/>
<rect x="178.7" y="433.8" width="7.0" height="7.0" fill="none" stroke="#4472C4" stroke-width="0.9"/>
<rect x="195.8" y="441.1" width="7.0" height="7.0" fill="none" stroke="#4472C4" stroke-width="0.9"/>
<rect x="227.5" y="478.3" width="7.0" height="7.0" fill="none" stroke="#4472C4" stroke-width="0.9"/>
<rect x="237.5" y="529.5" width="7.0" height="7.0" fill="none" stroke="#4472C4" stroke-width="0.9"/>
<rect x="249.2" y="526.6" width="7.0" height="7.0" fill="none" stroke="#4472C4" stroke-width="0.9"/>
<rect x="258.4" y="528.5" width="7.0" height="7.0" fill="none" stroke="#4472C4" stroke-width="0.9"/>
<rect x="270.4" y="531" width="7.0" height="7.0" fill="none" stroke="#4472C4" stroke-width="0.9"/>
<rect x="278" y="535.4" width="7.0" height="7.0" fill="none" stroke="#4472C4" stroke-width="0.9"/>
<rect x="271.6" y="538.7" width="7.0" height="7.0" fill="none" stroke="#4472C4" stroke-width="0.9"/>
<rect x="294.6" y="527.7" width="7.0" height="7.0" fill="none" stroke="#4472C4" stroke-width="0.9"/>
<rect x="294.6" y="538.7" width="7.0" height="7.0" fill="none" stroke="#4472C4" stroke-width="0.9"/>
<rect x="308.5" y="541.7" width="7.0" height="7.0" fill="none" stroke="#4472C4" stroke-width="0.9"/>
<rect x="308.8" y="526.3" width="7.0" height="7.0" fill="none" stroke="#4472C4" stroke-width="0.9"/>
<rect x="323.1" y="537.3" width="7.0" height="7.0" fill="none" stroke="#4472C4" stroke-width="0.9"/>
<rect x="278.5" y="555.3" width="7.0" height="7.0" fill="none" stroke="#4472C4" stroke-width="0.9"/>
<rect x="295" y="555.6" width="7.0" height="7.0" fill="none" stroke="#4472C4" stroke-width="0.9"/>
<rect x="303.4" y="556.7" width="7.0" height="7.0" fill="none" stroke="#4472C4" stroke-width="0.9"/>
<rect x="135.4" y="427.5" width="7.0" height="7.0" fill="none" stroke="#333" stroke-width="0.9"/>
<rect x="121.1" y="451.3" width="7.0" height="7.0" fill="none" stroke="#333" stroke-width="0.9"/>
<rect x="109.5" y="466.3" width="7.0" height="7.0" fill="none" stroke="#333" stroke-width="0.9"/>
<rect x="99.5" y="478.7" width="7.0" height="7.0" fill="none" stroke="#333" stroke-width="0.9"/>
<rect x="84.6" y="501.1" width="7.0" height="7.0" fill="none" stroke="#333" stroke-width="0.9"/>
<rect x="84.6" y="514.5" width="7.0" height="7.0" fill="none" stroke="#333" stroke-width="0.9"/>
<rect x="76.9" y="522.1" width="7.0" height="7.0" fill="none" stroke="#333" stroke-width="0.9"/>
<rect x="72.8" y="535.3" width="7.0" height="7.0" fill="none" stroke="#333" stroke-width="0.9"/>
<rect x="65.1" y="558" width="7.0" height="7.0" fill="none" stroke="#333" stroke-width="0.9"/>
<rect x="60" y="565.3" width="7.0" height="7.0" fill="none" stroke="#333" stroke-width="0.9"/>
<rect x="51.5" y="604.5" width="7.0" height="7.0" fill="none" stroke="#333" stroke-width="0.9"/>
<rect x="157.4" y="431.9" width="7.0" height="7.0" fill="none" stroke="#333" stroke-width="0.9"/>
<rect x="179.4" y="424.1" width="7.0" height="7.0" fill="none" stroke="#333" stroke-width="0.9"/>
<rect x="195.8" y="430.4" width="7.0" height="7.0" fill="none" stroke="#333" stroke-width="0.9"/>
<rect x="204.6" y="442.2" width="7.0" height="7.0" fill="none" stroke="#333" stroke-width="0.9"/>
<rect x="219.2" y="459.9" width="7.0" height="7.0" fill="none" stroke="#333" stroke-width="0.9"/>
<rect x="225.1" y="466.5" width="7.0" height="7.0" fill="none" stroke="#333" stroke-width="0.9"/>
<rect x="237" y="496.3" width="7.0" height="7.0" fill="none" stroke="#333" stroke-width="0.9"/>
<rect x="247.3" y="504.3" width="7.0" height="7.0" fill="none" stroke="#333" stroke-width="0.9"/>
<rect x="258" y="509.4" width="7.0" height="7.0" fill="none" stroke="#333" stroke-width="0.9"/>
<rect x="270.1" y="522.3" width="7.0" height="7.0" fill="none" stroke="#333" stroke-width="0.9"/>
<rect x="278" y="525.5" width="7.0" height="7.0" fill="none" stroke="#333" stroke-width="0.9"/>
<rect x="285.8" y="524.1" width="7.0" height="7.0" fill="none" stroke="#333" stroke-width="0.9"/>
<rect x="295" y="520.4" width="7.0" height="7.0" fill="none" stroke="#333" stroke-width="0.9"/>
<rect x="304.4" y="540.2" width="7.0" height="7.0" fill="none" stroke="#333" stroke-width="0.9"/>
<circle cx="86.5" cy="479" r="3.7" fill="#4472C4"/>
<circle cx="78.6" cy="501.7" r="3.7" fill="#4472C4"/>
<circle cx="74.8" cy="521.2" r="3.7" fill="#4472C4"/>
<circle cx="71.3" cy="534.4" r="3.7" fill="#4472C4"/>
<circle cx="213.9" cy="429.5" r="3.7" fill="#4472C4"/>
<circle cx="228.6" cy="458.3" r="3.7" fill="#4472C4"/>
<circle cx="250.7" cy="484.9" r="3.7" fill="#4472C4"/>
<circle cx="261.2" cy="491.2" r="3.7" fill="#4472C4"/>
<circle cx="273.5" cy="501.7" r="3.7" fill="#4472C4"/>
<circle cx="280.5" cy="507.8" r="3.7" fill="#4472C4"/>
<circle cx="307.3" cy="512.5" r="3.7" fill="#4472C4"/>
<circle cx="326.6" cy="485" r="3.7" fill="#4472C4"/>
<circle cx="326.6" cy="501.7" r="3.7" fill="#4472C4"/>
<circle cx="122.1" cy="435.1" r="3.7" fill="#000"/>
<circle cx="95.4" cy="477.1" r="3.7" fill="#000"/>
<circle cx="82.1" cy="526.8" r="3.7" fill="#000"/>
<circle cx="72.3" cy="542.2" r="3.7" fill="#000"/>
<circle cx="63.5" cy="546.1" r="3.7" fill="#000"/>
<circle cx="60.6" cy="548.3" r="3.7" fill="#000"/>
<circle cx="56.9" cy="552" r="3.7" fill="#000"/>
<circle cx="144.3" cy="411.7" r="3.7" fill="#000"/>
<circle cx="207.6" cy="410.1" r="3.7" fill="#000"/>
<circle cx="215.8" cy="410.1" r="3.7" fill="#000"/>
<circle cx="226.1" cy="436.9" r="3.7" fill="#000"/>
<path d="M129.9 462.35L133.4 456.05L136.9 462.35Z" fill="none" stroke="#4472C4" stroke-width="0.8"/>
<path d="M105.6 504.55L109.1 498.25L112.6 504.55Z" fill="none" stroke="#4472C4" stroke-width="0.8"/>
<path d="M174.3 391.75L177.8 385.45L181.3 391.75Z" fill="none" stroke="#4472C4" stroke-width="0.8"/>
<path d="M220.9 460.45L224.4 454.15L227.9 460.45Z" fill="none" stroke="#4472C4" stroke-width="0.8"/>
<path d="M230.6 499.95L234.1 493.65L237.6 499.95Z" fill="none" stroke="#4472C4" stroke-width="0.8"/>
<path d="M246.7 497.75L250.2 491.45L253.7 497.75Z" fill="none" stroke="#4472C4" stroke-width="0.8"/>
<path d="M278 502.45L281.5 496.15L285 502.45Z" fill="none" stroke="#4472C4" stroke-width="0.8"/>
<path d="M297.9 515.35L301.4 509.05L304.9 515.35Z" fill="none" stroke="#4472C4" stroke-width="0.8"/>
<path d="M312.2 538.05L315.7 531.75L319.2 538.05Z" fill="none" stroke="#4472C4" stroke-width="0.8"/>
<path d="M91.9 529.55L95.4 523.25L98.9 529.55Z" fill="none" stroke="#222" stroke-width="0.8"/>
<path d="M152.3 409.25L155.8 402.95L159.3 409.25Z" fill="none" stroke="#222" stroke-width="0.8"/>
<path d="M193.6 412.65L197.1 406.35L200.6 412.65Z" fill="none" stroke="#222" stroke-width="0.8"/>
<path d="M211.2 434.85L214.7 428.55L218.2 434.85Z" fill="none" stroke="#222" stroke-width="0.8"/>
<path d="M238.9 480.75L242.4 474.45L245.9 480.75Z" fill="none" stroke="#222" stroke-width="0.8"/>
<path d="M317 524.85L320.5 518.55L324 524.85Z" fill="none" stroke="#222" stroke-width="0.8"/>
</g>
<text x="185.5" y="327.3" class="at" text-anchor="middle">Mole fraction oxygen</text>
<text x="527.3" y="327.3" class="at" text-anchor="middle">Mole fraction oxygen</text>
<text x="185.3" y="677.4" class="at" text-anchor="middle">Mole fraction oxygen</text>
<text transform="translate(12.3,143.7) rotate(-90)" class="at" text-anchor="middle">Temperature, K</text>
<text transform="translate(353.5,143.7) rotate(-90)" class="at" text-anchor="middle">Temperature, K</text>
<text transform="translate(12.3,497.5) rotate(-90)" class="at" text-anchor="middle">Temperature, K</text>
</svg>
</body></html>
